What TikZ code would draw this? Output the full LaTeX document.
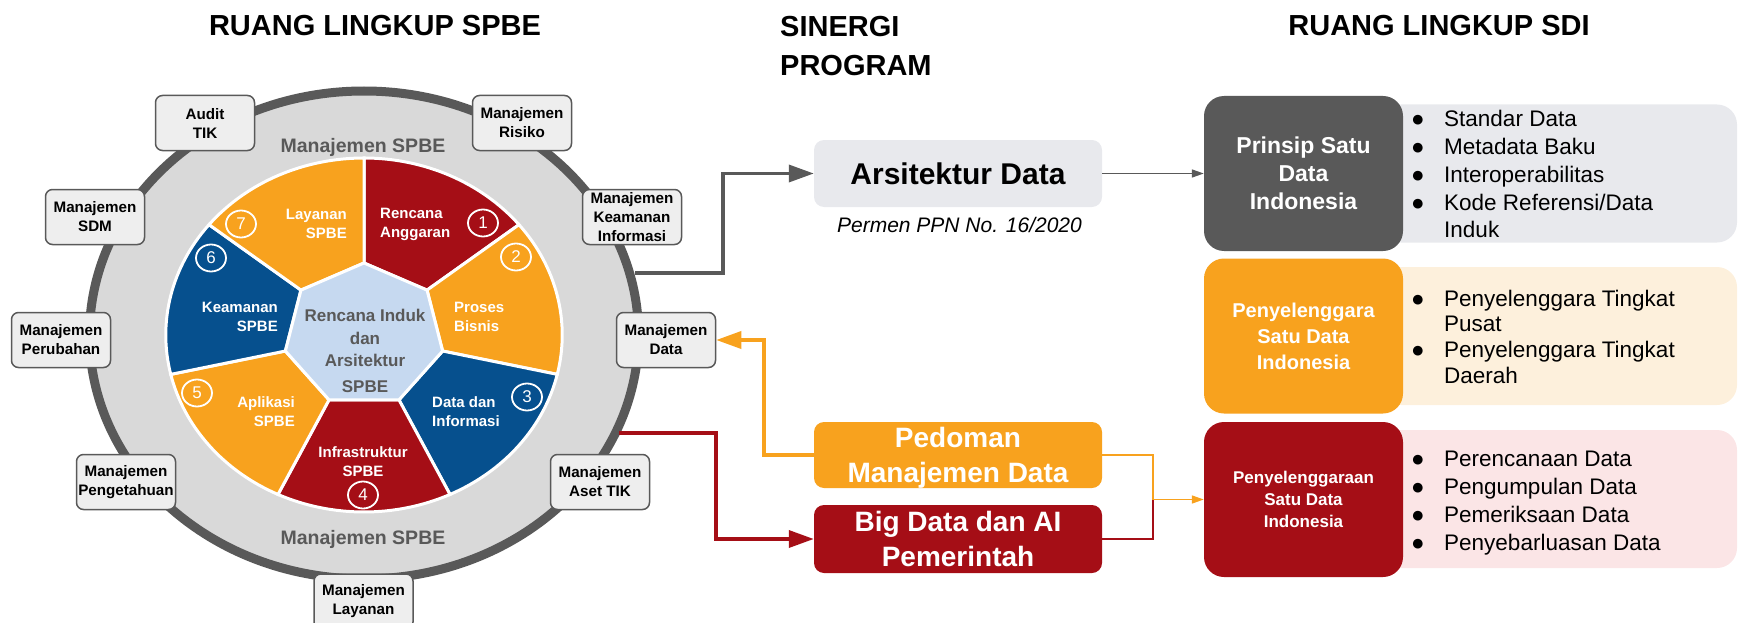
\documentclass[tikz,border=0pt]{standalone}
\usepackage{fontspec}
\setmainfont{Liberation Sans}
\usetikzlibrary{arrows.meta,shapes.geometric}

\definecolor{sdRed}{HTML}{A50E16}
\definecolor{sdOrange}{HTML}{F8A21E}
\definecolor{sdBlue}{HTML}{06508E}
\definecolor{hubGray}{HTML}{595959}
\definecolor{ringFill}{HTML}{D9D9D9}
\definecolor{hubBlue}{HTML}{C6D9F0}
\definecolor{boxFill}{HTML}{EEEEEE}
\definecolor{paleGray}{HTML}{E8E9ED}
\definecolor{paleOrange}{HTML}{FDF0DC}
\definecolor{palePink}{HTML}{FBE5E6}

\tikzset{
  headline/.style={inner sep=0pt, font=\fontsize{29}{39}\selectfont\bfseries},
  mgmt/.style={draw=hubGray, fill=boxFill, line width=1.5pt, rounded corners=7pt,
    minimum width=99pt, minimum height=55pt, inner sep=0pt, align=center,
    font=\fontsize{15.2}{19}\selectfont\bfseries},
  seglabel/.style={text=white, inner sep=0pt, font=\fontsize{15}{19}\selectfont\bfseries},
  segnum/.style={ellipse, draw=white, line width=1.8pt, minimum width=30pt,
    minimum height=27pt, inner sep=0pt, text=white, font=\fontsize{17}{17}\selectfont},
  spbelabel/.style={text=hubGray, inner sep=0pt, font=\fontsize{19.5}{19.5}\selectfont\bfseries},
  progbox/.style={rounded corners=10pt, minimum width=288pt, inner sep=0pt, align=center,
    text depth=0pt, font=\fontsize{28}{35.5}\selectfont\bfseries},
  sdibox/.style={rounded corners=20pt, minimum width=199pt, minimum height=155pt,
    inner sep=0pt, align=center, text=white, text depth=0pt},
  listbox/.style={rounded corners=20pt, minimum width=356pt, minimum height=138pt, inner sep=0pt},
  listtext/.style={inner sep=0pt, anchor=base west},
  bigarrow/.style={line width=3.5pt, -{Triangle[length=25pt, width=17pt]}},
  thinarrow/.style={line width=1.5pt, -{Triangle[length=12pt, width=8pt]}},
}

\begin{document}
\begin{tikzpicture}[x=1pt, y=-1pt]
  \useasboundingbox (0,0) rectangle (1739,623);

  % Judul
  \node[headline, anchor=base] (spbeTitle) at (375,36) {RUANG LINGKUP SPBE};
  \node[headline, anchor=north west, align=left] (sinergiTitle) at (780,16) {SINERGI\\PROGRAM};
  \node[headline, anchor=base] (sdiTitle) at (1439,36) {RUANG LINGKUP SDI};

  % Lingkaran SPBE
  \filldraw[fill=ringFill, draw=hubGray, line width=9pt] (364,335) ellipse [x radius=274.5, y radius=244];
  \begin{scope}[shift={(364,335)}, xscale=1.12, yscale=-1]
    \foreach \k/\col in {0/sdRed,1/sdOrange,2/sdBlue,3/sdRed,4/sdOrange,5/sdBlue,6/sdOrange}{
      \pgfmathsetmacro{\angA}{90-360/7*\k}
      \pgfmathsetmacro{\angB}{\angA-360/7}
      \filldraw[fill=\col, draw=white, line width=3pt] (\angA:72) -- (\angA:177)
        arc[start angle=\angA, end angle=\angB, radius=177] -- (\angB:72) -- cycle;
    }
    \filldraw[fill=hubBlue, draw=white, line width=3pt] (90:72)
      \foreach \k in {1,...,6}{ -- ({90-360/7*\k}:72)} -- cycle;
  \end{scope}

  \node[spbelabel, anchor=base] (spbeTop) at (363,153) {Manajemen SPBE};
  \node[spbelabel, anchor=base] (spbeBottom) at (363,544) {Manajemen SPBE};

  \node[text=hubGray, inner sep=0pt, align=center, font=\fontsize{17}{22.5}\selectfont\bfseries]
    (hubText) at (365,351) {Rencana Induk\\dan\\Arsitektur\\[3.5pt]SPBE};

  % Segmen
  \node[seglabel, anchor=west, align=left] (lblAnggaran) at (380,224) {Rencana\\Anggaran};
  \node[seglabel, anchor=west, align=left] (lblProses) at (454,317) {Proses\\Bisnis};
  \node[seglabel, anchor=west, align=left] (lblData) at (432,412) {Data dan\\Informasi};
  \node[seglabel, align=center] (lblInfra) at (363,462) {Infrastruktur\\SPBE};
  \node[seglabel, anchor=east, align=right] (lblAplikasi) at (295,412) {Aplikasi\\SPBE};
  \node[seglabel, anchor=east, align=right] (lblKeamanan) at (278,317) {Keamanan\\SPBE};
  \node[seglabel, anchor=east, align=right] (lblLayanan) at (347,224) {Layanan\\SPBE};

  \node[segnum] (num1) at (483,223) {1};
  \node[segnum] (num2) at (516,257) {2};
  \node[segnum] (num3) at (527,397) {3};
  \node[segnum] (num4) at (363,495) {4};
  \node[segnum] (num5) at (197,393) {5};
  \node[segnum] (num6) at (211,258) {6};
  \node[segnum] (num7) at (241,224) {7};

  % Manajemen
  \node[mgmt] (mgmtAudit) at (205,123) {Audit\\TIK};
  \node[mgmt] (mgmtRisiko) at (522,123) {Manajemen\\Risiko};
  \node[mgmt] (mgmtSdm) at (95,217) {Manajemen\\SDM};
  \node[mgmt] (mgmtKeamanan) at (632,217) {Manajemen\\Keamanan\\Informasi};
  \node[mgmt] (mgmtPerubahan) at (61,340) {Manajemen\\Perubahan};
  \node[mgmt] (mgmtData) at (666,340) {Manajemen\\Data};
  \node[mgmt] (mgmtPengetahuan) at (126,482) {Manajemen\\Pengetahuan};
  \node[mgmt] (mgmtAset) at (600,482) {Manajemen\\Aset TIK};
  \node[mgmt] (mgmtLayanan) at (363.5,601.5) {Manajemen\\Layanan};

  % Sinergi program
  \node[progbox, fill=paleGray, minimum height=67pt, font=\fontsize{30}{30}\selectfont\bfseries]
    (arsitektur) at (958,173.5) {Arsitektur Data};
  \node[anchor=base, inner sep=0pt, font=\fontsize{21}{21}\selectfont\itshape]
    (permen) at (959.5,232) {Permen PPN No. 16/2020};
  \node[progbox, fill=sdOrange, text=white, minimum height=66pt] (pedoman) at (958,455) {Pedoman\\Manajemen Data};
  \node[progbox, fill=sdRed, text=white, minimum height=68pt] (bigdata) at (958,539) {Big Data dan AI\\Pemerintah};

  % Ruang lingkup SDI
  \node[listbox, fill=paleGray] (prinsipList) at (1559,173.5) {};
  \node[listbox, fill=paleOrange] (penyelenggaraList) at (1559,336) {};
  \node[listbox, fill=palePink] (penyelenggaraanList) at (1559,499) {};

  \node[sdibox, fill=hubGray, font=\fontsize{23}{28}\selectfont\bfseries] (prinsip) at (1303.5,173.5) {Prinsip Satu\\Data\\Indonesia};
  \node[sdibox, fill=sdOrange, font=\fontsize{20}{26}\selectfont\bfseries] (penyelenggara) at (1303.5,336) {Penyelenggara\\Satu Data\\Indonesia};
  \node[sdibox, fill=sdRed, font=\fontsize{17}{22}\selectfont\bfseries] (penyelenggaraan) at (1303.5,499.5) {Penyelenggaraan\\Satu Data\\Indonesia};

  \node[listtext, font=\fontsize{22.5}{27.75}\selectfont] (prinsipItems) at (1411,127)
    {\begin{tabular}[t]{@{}p{33pt}@{}l@{}}
      ● & Standar Data\\ ● & Metadata Baku\\ ● & Interoperabilitas\\
      ● & Kode Referensi/Data\\ & Induk
    \end{tabular}};
  \node[listtext, font=\fontsize{22.5}{25.7}\selectfont] (penyelenggaraItems) at (1411,306)
    {\begin{tabular}[t]{@{}p{33pt}@{}l@{}}
      ● & Penyelenggara Tingkat\\ & Pusat\\ ● & Penyelenggara Tingkat\\ & Daerah
    \end{tabular}};
  \node[listtext, font=\fontsize{22.5}{28}\selectfont] (penyelenggaraanItems) at (1411,466)
    {\begin{tabular}[t]{@{}p{33pt}@{}l@{}}
      ● & Perencanaan Data\\ ● & Pengumpulan Data\\ ● & Pemeriksaan Data\\ ● & Penyebarluasan Data
    \end{tabular}};

  % Panah
  \coordinate (ringTop) at (635,273);
  \coordinate (ringLow) at (619,433);
  \coordinate (merge) at (1153,499.5);
  \draw[bigarrow, hubGray] (ringTop) -- ++(88,0) |- (arsitektur.west);
  \draw[bigarrow, sdOrange] (pedoman.west) -- ++(-50,0) |- (mgmtData.east);
  \draw[bigarrow, sdRed] (ringLow) -- ++(97,0) |- (bigdata.west);
  \draw[thinarrow, hubGray] (arsitektur.east) -- (prinsip.west);
  \draw[line width=1.5pt, sdOrange] (pedoman.east) -| (merge);
  \draw[line width=1.5pt, sdRed] (bigdata.east) -| (merge);
  \draw[thinarrow, sdOrange] (merge) -- (penyelenggaraan.west);
\end{tikzpicture}
\end{document}
